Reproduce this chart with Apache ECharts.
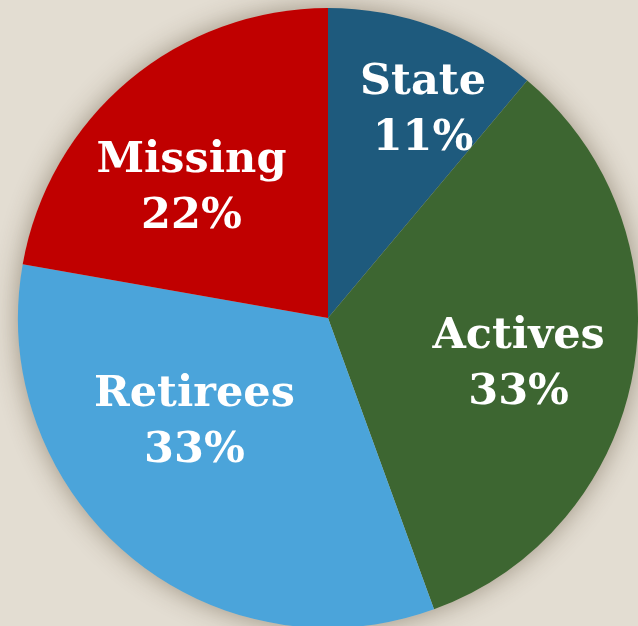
<!DOCTYPE html>
<html>
<head>
<meta charset="utf-8">
<script src="https://cdn.jsdelivr.net/npm/echarts@6/dist/echarts.min.js"></script>
<style>
  html, body { margin: 0; padding: 0; background: #e3ddd2; }
  #chart { width: 638px; height: 626px; }
</style>
</head>
<body>
<div id="chart"></div>
<script>
// Funding sources share (pie)
const categories = ['State', 'Actives', 'Retirees', 'Missing'];
const values = [1, 3, 3, 2];
const colors = ['#1e5a7d', '#3d6631', '#4ba4da', '#c00000'];
// per-slice label nudges [dx, dy] so labels sit where the original put them
const labelNudge = [[41, -59], [35, 19], [-32, -16], [-35, -8]];

const chart = echarts.init(document.getElementById('chart'));

const pieCenter = [328, 318];
const pieRadius = 310;

chart.setOption({
    animation: false,
    backgroundColor: '#e3ddd2',
    series: [
        {
            // plain disc underneath, only to cast the soft halo
            type: 'pie',
            silent: true,
            z: 1,
            center: pieCenter,
            radius: pieRadius,
            label: { show: false },
            labelLine: { show: false },
            itemStyle: {
                color: '#c9c0b0',
                shadowBlur: 26,
                shadowColor: 'rgba(70, 55, 30, 0.45)'
            },
            data: [{ value: 1 }]
        },
        {
            type: 'pie',
            z: 2,
            center: pieCenter,
            radius: pieRadius,
            startAngle: 90,
            clockwise: true,
            avoidLabelOverlap: false,
            itemStyle: { borderWidth: 0 },
            label: {
                show: true,
                position: 'inside',
                color: '#ffffff',
                fontFamily: 'DejaVu Serif',
                fontWeight: 'bold',
                fontSize: 43,
                lineHeight: 56,
                formatter: p => p.name + '\n' + Math.round(p.percent) + '%'
            },
            labelLayout: p => ({ dx: labelNudge[p.dataIndex][0], dy: labelNudge[p.dataIndex][1] }),
            labelLine: { show: false },
            emphasis: { disabled: true },
            data: categories.map((name, i) => ({
                name: name,
                value: values[i],
                itemStyle: { color: colors[i] }
            }))
        }
    ]
});
</script>
</body>
</html>
